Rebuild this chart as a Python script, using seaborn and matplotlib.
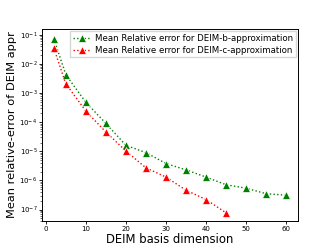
import matplotlib
matplotlib.use("Agg")
import matplotlib.pyplot as plt
import seaborn as sns
import pandas as pd

# DEIM basis dimensions and mean relative errors
dims_b = [2, 5, 10, 15, 20, 25, 30, 35, 40, 45, 50, 55, 60]
err_b = [7.3e-2, 4.3e-3, 4.8e-4, 9.1e-5, 1.6e-5, 9.0e-6, 3.8e-6, 2.3e-6,
         1.3e-6, 7.1e-7, 5.4e-7, 3.5e-7, 3.1e-7]

dims_c = [2, 5, 10, 15, 20, 25, 30, 35, 40, 45]
err_c = [3.5e-2, 2.1e-3, 2.4e-4, 4.6e-5, 1.02e-5, 2.7e-6, 1.3e-6, 4.6e-7,
         2.2e-7, 7.7e-8]

y_ticks = [1e-7, 1e-6, 1e-5, 1e-4, 1e-3, 1e-2, 1e-1]
x_ticks = [0, 10, 20, 30, 40, 50, 60]

label_b = "Mean Relative error for DEIM-b-approximation"
label_c = "Mean Relative error for DEIM-c-approximation"

df_b = pd.DataFrame({"dim": dims_b, "err": err_b})
df_c = pd.DataFrame({"dim": dims_c, "err": err_c})

plt.rcParams["font.family"] = ["DejaVu Sans"]

fig, ax = plt.subplots(figsize=(3.32, 2.49), dpi=100)
fig.subplots_adjust(left=0.127, right=0.897, top=0.884, bottom=0.112)

sns.lineplot(data=df_b, x="dim", y="err", ax=ax, color="g", marker="^",
             linestyle=":", linewidth=1.0, markersize=5.5, markeredgewidth=0.5,
             label=label_b)
sns.lineplot(data=df_c, x="dim", y="err", ax=ax, color="r", marker="^",
             linestyle=":", linewidth=1.0, markersize=5.5, markeredgewidth=0.5,
             label=label_c)

ax.set_yscale("log")
ax.set_ylim(4.0e-8, 0.16)
ax.set_yticks(y_ticks)
ax.set_xticks(x_ticks)
ax.set_xlabel("DEIM basis dimension", fontsize=8.4, labelpad=1)
ax.set_ylabel("Mean relative-error of DEIM appr", fontsize=8.2, labelpad=1.5)
ax.tick_params(labelsize=5, length=2, width=0.6, pad=1.5)
ax.tick_params(which="minor", length=1.2, width=0.4)
for s in ax.spines.values():
    s.set_linewidth(0.7)

ax.legend(loc="upper right", fontsize=6.2, borderaxespad=0.25,
          handlelength=2.2, handletextpad=0.4, borderpad=0.3,
          labelspacing=0.35, frameon=True, fancybox=False, framealpha=0.8,
          edgecolor="0.8")

fig.savefig("out.png", dpi=100)
